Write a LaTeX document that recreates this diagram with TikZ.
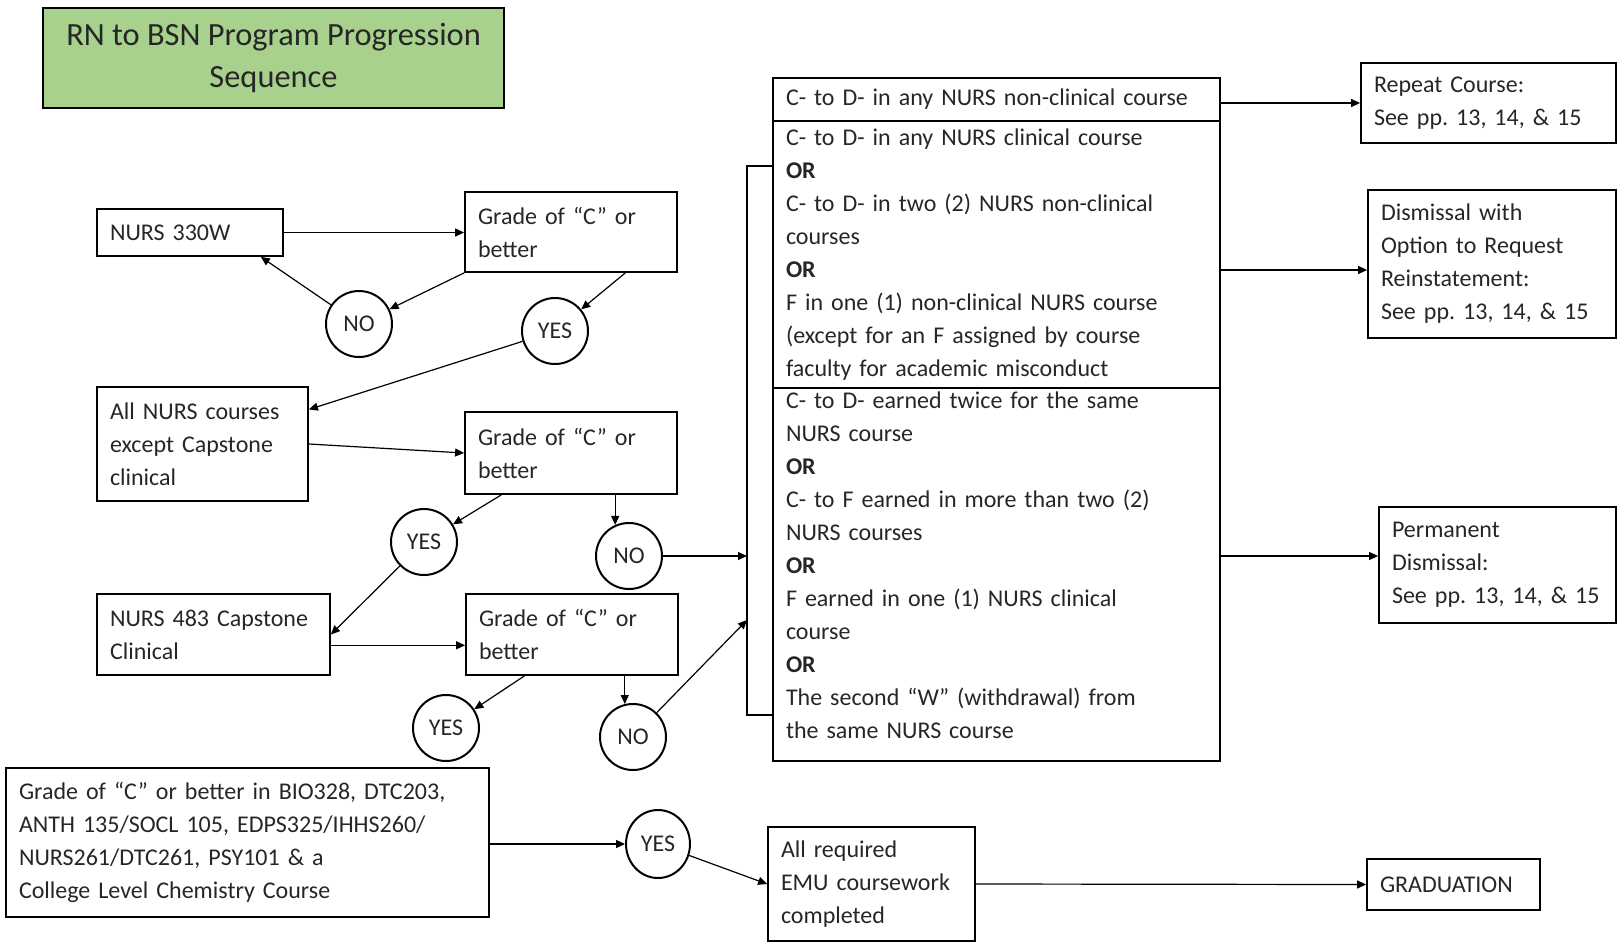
\documentclass[tikz,border=0pt]{standalone}
\usepackage{fontspec}
\setmainfont{Carlito}
\usetikzlibrary{arrows.meta,shapes.geometric}

\definecolor{titlegreen}{HTML}{A9D18E}
\definecolor{inkgray}{HTML}{262626}

\begin{document}
\frenchspacing
\begin{tikzpicture}[x=0.5pt,y=-0.5pt,
  box/.style={draw=black,line width=0.9pt,rectangle,inner xsep=6.5pt,inner ysep=2pt,align=left,
    font=\fontsize{12}{16.5}\selectfont,text=inkgray},
  ans/.style={draw=black,line width=1pt,circle,minimum size=33pt,inner sep=0pt,
    font=\fontsize{12}{14}\selectfont,text=inkgray},
  link/.style={line width=0.6pt,-{Triangle[length=4.5pt,width=4pt]}}]
\useasboundingbox (0,0) rectangle (1617,943);

\node[draw=black,line width=1.3pt,fill=titlegreen,minimum width=230.5pt,minimum height=50pt,align=center,
  font=\fontsize{16.2}{21}\selectfont,text=inkgray] (title) at (273.5,58) {RN to BSN Program Progression\\Sequence};

\node[box,text width=80pt,minimum height=23.5pt] (n330) at (190,232.5) {NURS 330W};
\node[box,text width=93pt,minimum height=40pt] (g1) at (571,232) {Grade of “C” or\\better};
\node[ans] (no1) at (359,324) {NO};
\node[ans] (yes1) at (555,331) {YES};
\node[box,text width=92.5pt,minimum height=57pt] (allnurs) at (202.5,444) {All NURS courses\\except Capstone\\clinical};
\node[box,text width=93pt,minimum height=41pt] (g2) at (571,453) {Grade of “C” or\\better};
\node[ans] (yes2) at (424,542) {YES};
\node[ans] (no2) at (629,556) {NO};
\node[box,text width=103.5pt,minimum height=40.5pt] (n483) at (213.5,634.5) {NURS 483 Capstone\\Clinical};
\node[box,text width=93pt,minimum height=40.5pt] (g3) at (572,634.5) {Grade of “C” or\\better};
\node[ans] (yes3) at (446,728) {YES};
\node[ans] (no3) at (633,737) {NO};

\node[box,text width=210.5pt,minimum height=21.5pt] (crit1) at (996.5,99.5) {C- to D- in any NURS non-clinical course};
\node[box,text width=210.5pt,minimum height=133.5pt] (crit2) at (996.5,254.5) {C- to D- in any NURS clinical course\\\textbf{OR}\\C- to D- in two (2) NURS non-clinical\\courses\\\textbf{OR}\\F in one (1) non-clinical NURS course\\(except for an F assigned by course\\faculty for academic misconduct};
\node[box,text width=210.5pt,minimum height=186.5pt,text depth=174pt] (crit3) at (996.5,574.5) {C- to D- earned twice for the same\\NURS course\\\textbf{OR}\\C- to F earned in more than two (2)\\NURS courses\\\textbf{OR}\\F earned in one (1) NURS clinical\\course\\\textbf{OR}\\The second “W” (withdrawal) from\\the same NURS course};

\node[box,text width=114.5pt,minimum height=40pt] (repeat) at (1488.5,103) {Repeat Course:\\See pp. 13, 14, \& 15};
\node[box,text width=111pt,minimum height=74pt] (dismiss) at (1492,264) {Dismissal with\\Option to Request\\Reinstatement:\\See pp. 13, 14, \& 15};
\node[box,text width=105.5pt,minimum height=58pt] (perm) at (1497.5,565) {Permanent\\Dismissal:\\See pp. 13, 14, \& 15};

\node[box,text width=228.5pt,minimum height=74.5pt] (prereq) at (247.5,842.5) {Grade of “C” or better in BIO328, DTC203,\\ANTH 135/SOCL 105, EDPS325/IHHS260/\\NURS261/DTC261, PSY101 \& a\\College Level Chemistry Course};
\node[ans,ellipse,minimum width=32pt,minimum height=34pt] (yes4) at (658,844) {YES};
\node[box,text width=90.5pt,minimum height=57pt] (allreq) at (871.5,884) {All required\\EMU coursework\\completed};
\node[box,text width=73.5pt,minimum height=25.5pt] (grad) at (1453.5,884.5) {GRADUATION};

\coordinate (brktop) at (747,166);
\coordinate (brkbot) at (747,715);
\coordinate (brkin) at (747,620);
\draw[line width=0.6pt] (crit2.west |- brktop) -- (brktop) -- (brkbot) -- (crit3.west |- brkbot);

\draw[link] (n330.east) -- (n330.east -| g1.west);
\draw[link] (g1.south west) -- (no1);
\draw[link] (no1) -- (n330.-19);
\draw[link] (g1.-37) -- (yes1);
\draw[link] (yes1) -- (allnurs.18);
\draw[link] (allnurs.east) -- (g2.west);
\draw[link] (g2.211) -- (yes2);
\draw[link] (no2.114 |- g2.south) -- (no2.114);
\draw[link] (yes2) -- (n483.east);
\draw[link] ([yshift=-5.4pt]n483.east) -- ([yshift=-5.4pt]n483.east -| g3.west);
\draw[link] (g3.221) -- (yes3);
\draw[link] (no3.104 |- g3.south) -- (no3.104);
\draw[link] (no2) -- (no2 -| brktop);
\draw[link] (no3) -- (brkin);

\draw[link] (crit1.east |- repeat) -- (repeat.west);
\draw[link] ([yshift=-3pt]crit2.east |- dismiss) -- ([yshift=-3pt]dismiss.west);
\draw[link] (crit3.east |- no2) -- (no2 -| perm.west);

\draw[link] (prereq.east |- yes4) -- (yes4);
\draw[link] (yes4) -- (allreq.west);
\draw[link] (allreq.east) -- (grad.west);
\end{tikzpicture}
\end{document}
